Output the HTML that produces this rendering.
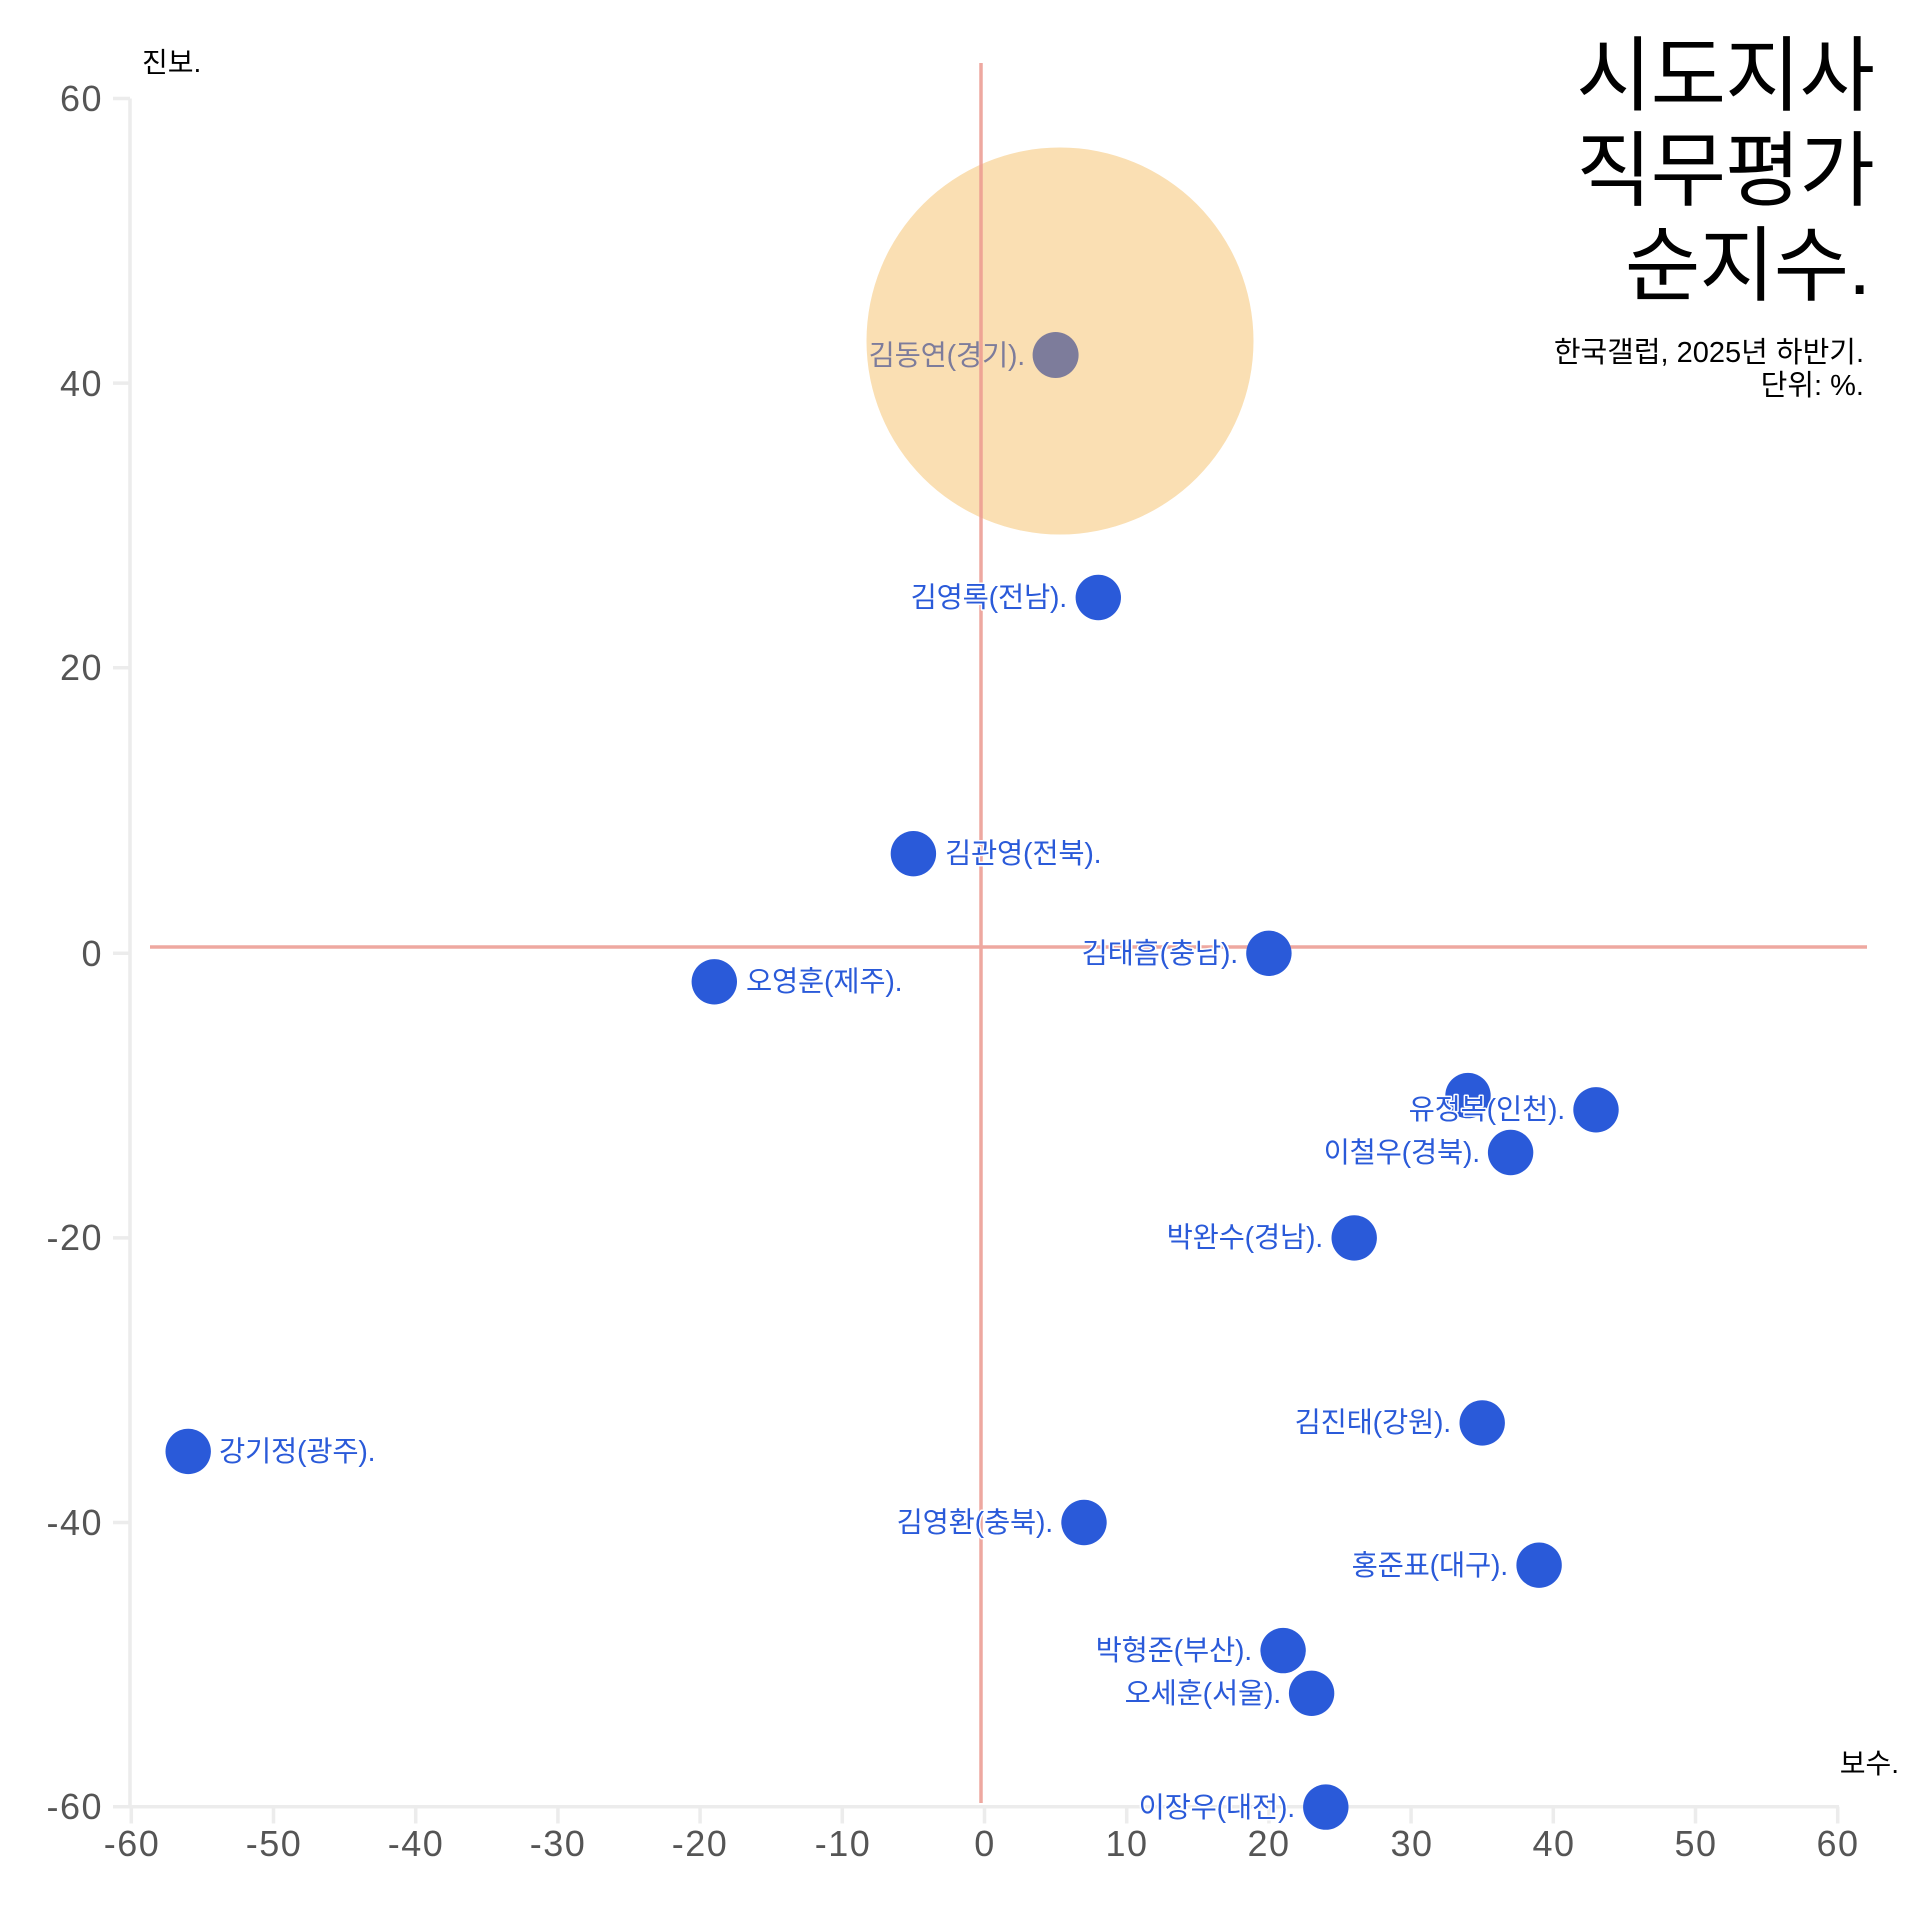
<!DOCTYPE html>
<html>
<head>
<meta charset="utf-8">
<style>
  html, body { margin:0; padding:0; background:#fff; }
  svg { display:block; }
  .t { font-family: "Liberation Sans", "Noto Sans CJK KR", sans-serif; }
  .lab { font-family: "Liberation Sans", "Noto Sans CJK KR", sans-serif; font-size:28.5px; fill:#2A5AD9; letter-spacing:-0.2px; }
  .halo { stroke:#fff; stroke-width:3px; paint-order:stroke; stroke-linejoin:round; }
  .tick { font-family: "Liberation Sans", "Noto Sans CJK KR", sans-serif; font-size:36px; fill:#555; letter-spacing:1.5px; }
</style>
</head>
<body>
<svg width="1920" height="1920" viewBox="0 0 1920 1920" xmlns="http://www.w3.org/2000/svg">
  <rect width="1920" height="1920" fill="#fff"/>

  <!-- axes -->
  <g stroke="#ececec" stroke-width="3.5" fill="none">
    <line x1="130" y1="98.5" x2="130" y2="1808"/>
    <line x1="113" y1="1806.7" x2="1839" y2="1806.7"/>
    <line x1="113" y1="98.5" x2="130" y2="98.5"/>
    <line x1="113" y1="383.1" x2="130" y2="383.1"/>
    <line x1="113" y1="667.7" x2="130" y2="667.7"/>
    <line x1="113" y1="953.3" x2="130" y2="953.3"/>
    <line x1="113" y1="1237.9" x2="130" y2="1237.9"/>
    <line x1="113" y1="1522.5" x2="130" y2="1522.5"/>
    <line x1="131.3" y1="1806.7" x2="131.3" y2="1823.5"/>
    <line x1="273.5" y1="1806.7" x2="273.5" y2="1823.5"/>
    <line x1="415.7" y1="1806.7" x2="415.7" y2="1823.5"/>
    <line x1="557.9" y1="1806.7" x2="557.9" y2="1823.5"/>
    <line x1="700.1" y1="1806.7" x2="700.1" y2="1823.5"/>
    <line x1="842.3" y1="1806.7" x2="842.3" y2="1823.5"/>
    <line x1="984.5" y1="1806.7" x2="984.5" y2="1823.5"/>
    <line x1="1126.7" y1="1806.7" x2="1126.7" y2="1823.5"/>
    <line x1="1268.9" y1="1806.7" x2="1268.9" y2="1823.5"/>
    <line x1="1411.1" y1="1806.7" x2="1411.1" y2="1823.5"/>
    <line x1="1553.3" y1="1806.7" x2="1553.3" y2="1823.5"/>
    <line x1="1695.5" y1="1806.7" x2="1695.5" y2="1823.5"/>
    <line x1="1837.7" y1="1806.7" x2="1837.7" y2="1823.5"/>
  </g>

  <!-- y tick labels -->
  <g class="tick" text-anchor="end">
    <text x="103" y="111">60</text>
    <text x="103" y="396">40</text>
    <text x="103" y="680">20</text>
    <text x="103" y="966">0</text>
    <text x="103" y="1250">-20</text>
    <text x="103" y="1535">-40</text>
    <text x="103" y="1819">-60</text>
  </g>
  <!-- x tick labels -->
  <g class="tick" text-anchor="middle">
    <text x="132" y="1856">-60</text>
    <text x="274" y="1856">-50</text>
    <text x="416" y="1856">-40</text>
    <text x="558" y="1856">-30</text>
    <text x="700" y="1856">-20</text>
    <text x="843" y="1856">-10</text>
    <text x="985" y="1856">0</text>
    <text x="1127" y="1856">10</text>
    <text x="1269" y="1856">20</text>
    <text x="1412" y="1856">30</text>
    <text x="1554" y="1856">40</text>
    <text x="1696" y="1856">50</text>
    <text x="1838" y="1856">60</text>
  </g>

  <!-- bubble -->
  <circle cx="1060" cy="341" r="193.5" fill="#FADFB3"/>

  <!-- red cross lines -->
  <g stroke="#EC9A90" stroke-width="3.5" opacity="0.85">
    <line x1="981" y1="63" x2="981" y2="1803"/>
    <line x1="150" y1="947" x2="1867" y2="947"/>
  </g>

  <!-- dots -->
  <circle cx="1055.6" cy="355" r="23" fill="#7D7C9B"/>
  <g fill="#2A5AD9">
    <circle cx="1098.3" cy="597.5" r="22.7"/>
    <circle cx="913.4" cy="853.7" r="22.7"/>
    <circle cx="1268.9" cy="953.3" r="22.7"/>
    <circle cx="714.3" cy="981.8" r="22.7"/>
    <circle cx="1468" cy="1095.6" r="22.7"/>
    <circle cx="1596" cy="1109.8" r="22.7"/>
    <circle cx="1510.6" cy="1152.5" r="22.7"/>
    <circle cx="1354.2" cy="1237.9" r="22.7"/>
    <circle cx="1482.2" cy="1422.9" r="22.7"/>
    <circle cx="188.2" cy="1451.4" r="22.7"/>
    <circle cx="1084" cy="1522.5" r="22.7"/>
    <circle cx="1539.1" cy="1565.2" r="22.7"/>
    <circle cx="1283.1" cy="1650.6" r="22.7"/>
    <circle cx="1311.6" cy="1693.3" r="22.7"/>
    <circle cx="1325.8" cy="1807.1" r="22.7"/>
  </g>

  <!-- labels -->
  <text class="lab" x="1025" y="365" text-anchor="end" style="fill:#7D7C9B">김동연(경기).</text>
  <g class="lab halo" text-anchor="end">
    <text x="1067" y="607">김영록(전남).</text>
    <text x="1238" y="963">김태흠(충남).</text>
    <text x="1565" y="1119">유정복(인천).</text>
    <text x="1480" y="1162">이철우(경북).</text>
    <text x="1323" y="1247">박완수(경남).</text>
    <text x="1451" y="1432">김진태(강원).</text>
    <text x="1053" y="1532">김영환(충북).</text>
    <text x="1508" y="1575">홍준표(대구).</text>
    <text x="1252" y="1660">박형준(부산).</text>
    <text x="1281" y="1703">오세훈(서울).</text>
    <text x="1295" y="1817">이장우(대전).</text>
  </g>
  <g class="lab halo" text-anchor="start">
    <text x="945" y="863">김관영(전북).</text>
    <text x="746" y="991">오영훈(제주).</text>
    <text x="219" y="1461">강기정(광주).</text>
  </g>

  <!-- axis titles -->
  <text class="t" x="142" y="72" font-size="28" fill="#000">진보.</text>
  <text class="t" x="1899" y="1773" font-size="28" fill="#000" text-anchor="end">보수.</text>

  <!-- title -->
  <g class="t" font-size="82" fill="#000" text-anchor="end" style="letter-spacing:-1px">
    <text x="1874" y="104">시도지사</text>
    <text x="1874" y="199">직무평가</text>
    <text x="1870" y="294">순지수.</text>
  </g>
  <g class="t" font-size="29" fill="#000" text-anchor="end">
    <text x="1864" y="362">한국갤럽, 2025년 하반기.</text>
    <text x="1864" y="395">단위: %.</text>
  </g>
</svg>
</body>
</html>
